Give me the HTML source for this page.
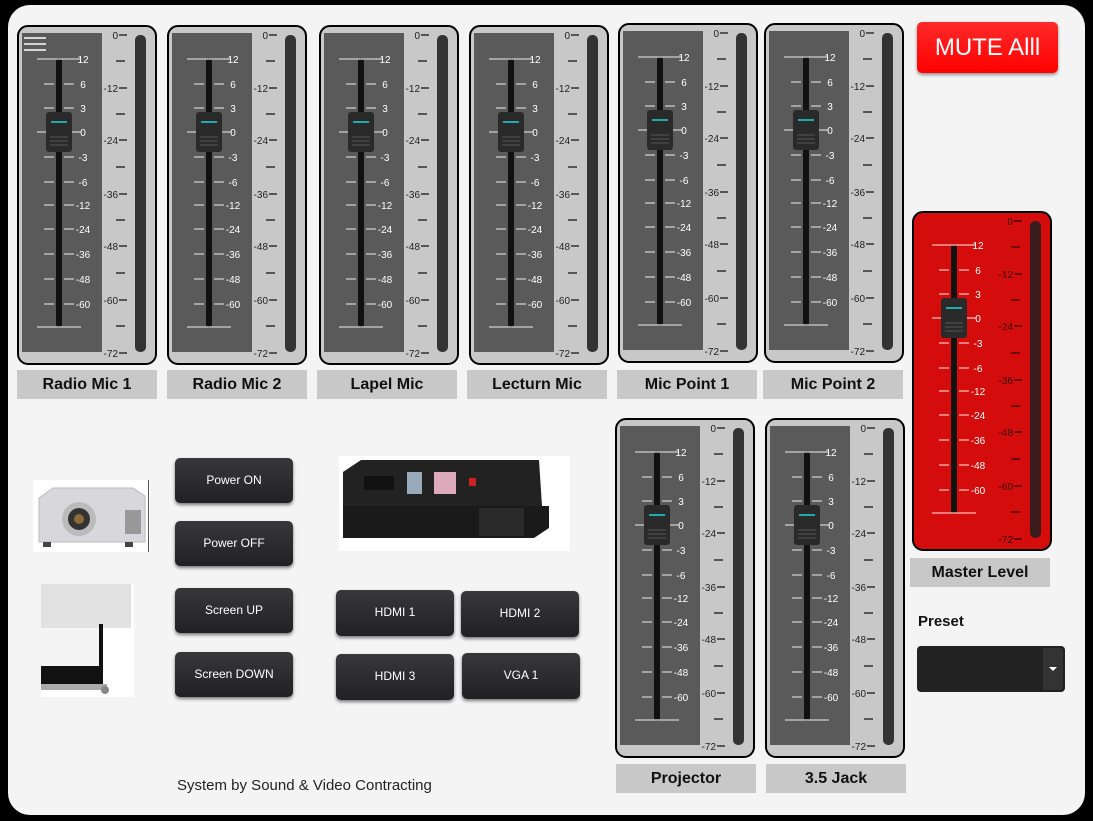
<!DOCTYPE html>
<html><head><meta charset="utf-8"><style>
body{margin:0;width:1093px;height:821px;background:#000;overflow:hidden;font-family:"Liberation Sans",sans-serif;position:relative}
.panel{position:absolute;left:8px;top:5px;width:1077px;height:810px;background:#f4f4f4;border-radius:22px}
.f{position:absolute;width:140px;height:340px}
.lb{position:absolute;width:140px;height:29px;background:#c8c8c8;font-weight:bold;font-size:16px;text-align:center;line-height:29px;color:#111}
.b{position:absolute;width:118px;height:45px;background:linear-gradient(#38383b,#212123);border-radius:5px;color:#fff;font-size:12px;text-align:center;line-height:45px;box-shadow:0 2px 3px rgba(0,0,0,.5)}
svg text{font-family:"Liberation Sans",sans-serif;font-size:10px}
</style></head><body>
<div class="panel"></div>

<svg class="f" style="left:17px;top:25px" viewBox="0 0 140 340"><rect x="1" y="1" width="138" height="338" rx="10" fill="#c8c8c8" stroke="#000" stroke-width="2"/><rect x="5" y="8" width="80" height="319" fill="#5a5a5a"/><rect x="39" y="33" width="6" height="270" rx="3" fill="#111"/><path d="M20 34H64M20 302H64M27 59H37M47 59H57M27 83H37M47 83H57M20 107H64M27 132H37M47 132H57M27 157H37M47 157H57M27 180H37M47 180H57M27 204H37M47 204H57M27 229H37M47 229H57M27 254H37M47 254H57M27 279H37M47 279H57" stroke="#bbb" stroke-width="1.5"/><g fill="#fff" text-anchor="middle"><text x="66" y="38">12</text><text x="66" y="63">6</text><text x="66" y="87">3</text><text x="66" y="111">0</text><text x="66" y="136">-3</text><text x="66" y="161">-6</text><text x="66" y="184">-12</text><text x="66" y="208">-24</text><text x="66" y="233">-36</text><text x="66" y="258">-48</text><text x="66" y="283">-60</text></g><g fill="#222" text-anchor="end"><text x="101" y="14">0</text><text x="101" y="67">-12</text><text x="101" y="119">-24</text><text x="101" y="173">-36</text><text x="101" y="225">-48</text><text x="101" y="279">-60</text><text x="101" y="332">-72</text></g><path d="M102 10H110M102 63H110M102 115H110M102 169H110M102 221H110M102 275H110M102 328H110M99 36H108M99 89H108M99 142H108M99 195H108M99 248H108M99 301H108" stroke="#111" stroke-width="1.2"/><rect x="118" y="10" width="11" height="317" rx="5" fill="#333"/><rect x="29" y="87" width="26" height="40" rx="3" fill="#2a2a2a"/><path d="M34 97H50" stroke="#2aa" stroke-width="2"/><path d="M33 112H51M33 116H51M33 120H51" stroke="#555"/><path d="M7 13H29M7 19H29M7 25H29" stroke="#fff" stroke-width="1.5"/></svg>

<svg class="f" style="left:167px;top:25px" viewBox="0 0 140 340"><rect x="1" y="1" width="138" height="338" rx="10" fill="#c8c8c8" stroke="#000" stroke-width="2"/><rect x="5" y="8" width="80" height="319" fill="#5a5a5a"/><rect x="39" y="33" width="6" height="270" rx="3" fill="#111"/><path d="M20 34H64M20 302H64M27 59H37M47 59H57M27 83H37M47 83H57M20 107H64M27 132H37M47 132H57M27 157H37M47 157H57M27 180H37M47 180H57M27 204H37M47 204H57M27 229H37M47 229H57M27 254H37M47 254H57M27 279H37M47 279H57" stroke="#bbb" stroke-width="1.5"/><g fill="#fff" text-anchor="middle"><text x="66" y="38">12</text><text x="66" y="63">6</text><text x="66" y="87">3</text><text x="66" y="111">0</text><text x="66" y="136">-3</text><text x="66" y="161">-6</text><text x="66" y="184">-12</text><text x="66" y="208">-24</text><text x="66" y="233">-36</text><text x="66" y="258">-48</text><text x="66" y="283">-60</text></g><g fill="#222" text-anchor="end"><text x="101" y="14">0</text><text x="101" y="67">-12</text><text x="101" y="119">-24</text><text x="101" y="173">-36</text><text x="101" y="225">-48</text><text x="101" y="279">-60</text><text x="101" y="332">-72</text></g><path d="M102 10H110M102 63H110M102 115H110M102 169H110M102 221H110M102 275H110M102 328H110M99 36H108M99 89H108M99 142H108M99 195H108M99 248H108M99 301H108" stroke="#111" stroke-width="1.2"/><rect x="118" y="10" width="11" height="317" rx="5" fill="#333"/><rect x="29" y="87" width="26" height="40" rx="3" fill="#2a2a2a"/><path d="M34 97H50" stroke="#2aa" stroke-width="2"/><path d="M33 112H51M33 116H51M33 120H51" stroke="#555"/></svg>

<svg class="f" style="left:319px;top:25px" viewBox="0 0 140 340"><rect x="1" y="1" width="138" height="338" rx="10" fill="#c8c8c8" stroke="#000" stroke-width="2"/><rect x="5" y="8" width="80" height="319" fill="#5a5a5a"/><rect x="39" y="33" width="6" height="270" rx="3" fill="#111"/><path d="M20 34H64M20 302H64M27 59H37M47 59H57M27 83H37M47 83H57M20 107H64M27 132H37M47 132H57M27 157H37M47 157H57M27 180H37M47 180H57M27 204H37M47 204H57M27 229H37M47 229H57M27 254H37M47 254H57M27 279H37M47 279H57" stroke="#bbb" stroke-width="1.5"/><g fill="#fff" text-anchor="middle"><text x="66" y="38">12</text><text x="66" y="63">6</text><text x="66" y="87">3</text><text x="66" y="111">0</text><text x="66" y="136">-3</text><text x="66" y="161">-6</text><text x="66" y="184">-12</text><text x="66" y="208">-24</text><text x="66" y="233">-36</text><text x="66" y="258">-48</text><text x="66" y="283">-60</text></g><g fill="#222" text-anchor="end"><text x="101" y="14">0</text><text x="101" y="67">-12</text><text x="101" y="119">-24</text><text x="101" y="173">-36</text><text x="101" y="225">-48</text><text x="101" y="279">-60</text><text x="101" y="332">-72</text></g><path d="M102 10H110M102 63H110M102 115H110M102 169H110M102 221H110M102 275H110M102 328H110M99 36H108M99 89H108M99 142H108M99 195H108M99 248H108M99 301H108" stroke="#111" stroke-width="1.2"/><rect x="118" y="10" width="11" height="317" rx="5" fill="#333"/><rect x="29" y="87" width="26" height="40" rx="3" fill="#2a2a2a"/><path d="M34 97H50" stroke="#2aa" stroke-width="2"/><path d="M33 112H51M33 116H51M33 120H51" stroke="#555"/></svg>

<svg class="f" style="left:469px;top:25px" viewBox="0 0 140 340"><rect x="1" y="1" width="138" height="338" rx="10" fill="#c8c8c8" stroke="#000" stroke-width="2"/><rect x="5" y="8" width="80" height="319" fill="#5a5a5a"/><rect x="39" y="33" width="6" height="270" rx="3" fill="#111"/><path d="M20 34H64M20 302H64M27 59H37M47 59H57M27 83H37M47 83H57M20 107H64M27 132H37M47 132H57M27 157H37M47 157H57M27 180H37M47 180H57M27 204H37M47 204H57M27 229H37M47 229H57M27 254H37M47 254H57M27 279H37M47 279H57" stroke="#bbb" stroke-width="1.5"/><g fill="#fff" text-anchor="middle"><text x="66" y="38">12</text><text x="66" y="63">6</text><text x="66" y="87">3</text><text x="66" y="111">0</text><text x="66" y="136">-3</text><text x="66" y="161">-6</text><text x="66" y="184">-12</text><text x="66" y="208">-24</text><text x="66" y="233">-36</text><text x="66" y="258">-48</text><text x="66" y="283">-60</text></g><g fill="#222" text-anchor="end"><text x="101" y="14">0</text><text x="101" y="67">-12</text><text x="101" y="119">-24</text><text x="101" y="173">-36</text><text x="101" y="225">-48</text><text x="101" y="279">-60</text><text x="101" y="332">-72</text></g><path d="M102 10H110M102 63H110M102 115H110M102 169H110M102 221H110M102 275H110M102 328H110M99 36H108M99 89H108M99 142H108M99 195H108M99 248H108M99 301H108" stroke="#111" stroke-width="1.2"/><rect x="118" y="10" width="11" height="317" rx="5" fill="#333"/><rect x="29" y="87" width="26" height="40" rx="3" fill="#2a2a2a"/><path d="M34 97H50" stroke="#2aa" stroke-width="2"/><path d="M33 112H51M33 116H51M33 120H51" stroke="#555"/></svg>

<svg class="f" style="left:618px;top:23px" viewBox="0 0 140 340"><rect x="1" y="1" width="138" height="338" rx="10" fill="#c8c8c8" stroke="#000" stroke-width="2"/><rect x="5" y="8" width="80" height="319" fill="#5a5a5a"/><rect x="39" y="33" width="6" height="270" rx="3" fill="#111"/><path d="M20 34H64M20 302H64M27 59H37M47 59H57M27 83H37M47 83H57M20 107H64M27 132H37M47 132H57M27 157H37M47 157H57M27 180H37M47 180H57M27 204H37M47 204H57M27 229H37M47 229H57M27 254H37M47 254H57M27 279H37M47 279H57" stroke="#bbb" stroke-width="1.5"/><g fill="#fff" text-anchor="middle"><text x="66" y="38">12</text><text x="66" y="63">6</text><text x="66" y="87">3</text><text x="66" y="111">0</text><text x="66" y="136">-3</text><text x="66" y="161">-6</text><text x="66" y="184">-12</text><text x="66" y="208">-24</text><text x="66" y="233">-36</text><text x="66" y="258">-48</text><text x="66" y="283">-60</text></g><g fill="#222" text-anchor="end"><text x="101" y="14">0</text><text x="101" y="67">-12</text><text x="101" y="119">-24</text><text x="101" y="173">-36</text><text x="101" y="225">-48</text><text x="101" y="279">-60</text><text x="101" y="332">-72</text></g><path d="M102 10H110M102 63H110M102 115H110M102 169H110M102 221H110M102 275H110M102 328H110M99 36H108M99 89H108M99 142H108M99 195H108M99 248H108M99 301H108" stroke="#111" stroke-width="1.2"/><rect x="118" y="10" width="11" height="317" rx="5" fill="#333"/><rect x="29" y="87" width="26" height="40" rx="3" fill="#2a2a2a"/><path d="M34 97H50" stroke="#2aa" stroke-width="2"/><path d="M33 112H51M33 116H51M33 120H51" stroke="#555"/></svg>

<svg class="f" style="left:764px;top:23px" viewBox="0 0 140 340"><rect x="1" y="1" width="138" height="338" rx="10" fill="#c8c8c8" stroke="#000" stroke-width="2"/><rect x="5" y="8" width="80" height="319" fill="#5a5a5a"/><rect x="39" y="33" width="6" height="270" rx="3" fill="#111"/><path d="M20 34H64M20 302H64M27 59H37M47 59H57M27 83H37M47 83H57M20 107H64M27 132H37M47 132H57M27 157H37M47 157H57M27 180H37M47 180H57M27 204H37M47 204H57M27 229H37M47 229H57M27 254H37M47 254H57M27 279H37M47 279H57" stroke="#bbb" stroke-width="1.5"/><g fill="#fff" text-anchor="middle"><text x="66" y="38">12</text><text x="66" y="63">6</text><text x="66" y="87">3</text><text x="66" y="111">0</text><text x="66" y="136">-3</text><text x="66" y="161">-6</text><text x="66" y="184">-12</text><text x="66" y="208">-24</text><text x="66" y="233">-36</text><text x="66" y="258">-48</text><text x="66" y="283">-60</text></g><g fill="#222" text-anchor="end"><text x="101" y="14">0</text><text x="101" y="67">-12</text><text x="101" y="119">-24</text><text x="101" y="173">-36</text><text x="101" y="225">-48</text><text x="101" y="279">-60</text><text x="101" y="332">-72</text></g><path d="M102 10H110M102 63H110M102 115H110M102 169H110M102 221H110M102 275H110M102 328H110M99 36H108M99 89H108M99 142H108M99 195H108M99 248H108M99 301H108" stroke="#111" stroke-width="1.2"/><rect x="118" y="10" width="11" height="317" rx="5" fill="#333"/><rect x="29" y="87" width="26" height="40" rx="3" fill="#2a2a2a"/><path d="M34 97H50" stroke="#2aa" stroke-width="2"/><path d="M33 112H51M33 116H51M33 120H51" stroke="#555"/></svg>

<svg class="f" style="left:615px;top:418px" viewBox="0 0 140 340"><rect x="1" y="1" width="138" height="338" rx="10" fill="#c8c8c8" stroke="#000" stroke-width="2"/><rect x="5" y="8" width="80" height="319" fill="#5a5a5a"/><rect x="39" y="33" width="6" height="270" rx="3" fill="#111"/><path d="M20 34H64M20 302H64M27 59H37M47 59H57M27 83H37M47 83H57M20 107H64M27 132H37M47 132H57M27 157H37M47 157H57M27 180H37M47 180H57M27 204H37M47 204H57M27 229H37M47 229H57M27 254H37M47 254H57M27 279H37M47 279H57" stroke="#bbb" stroke-width="1.5"/><g fill="#fff" text-anchor="middle"><text x="66" y="38">12</text><text x="66" y="63">6</text><text x="66" y="87">3</text><text x="66" y="111">0</text><text x="66" y="136">-3</text><text x="66" y="161">-6</text><text x="66" y="184">-12</text><text x="66" y="208">-24</text><text x="66" y="233">-36</text><text x="66" y="258">-48</text><text x="66" y="283">-60</text></g><g fill="#222" text-anchor="end"><text x="101" y="14">0</text><text x="101" y="67">-12</text><text x="101" y="119">-24</text><text x="101" y="173">-36</text><text x="101" y="225">-48</text><text x="101" y="279">-60</text><text x="101" y="332">-72</text></g><path d="M102 10H110M102 63H110M102 115H110M102 169H110M102 221H110M102 275H110M102 328H110M99 36H108M99 89H108M99 142H108M99 195H108M99 248H108M99 301H108" stroke="#111" stroke-width="1.2"/><rect x="118" y="10" width="11" height="317" rx="5" fill="#333"/><rect x="29" y="87" width="26" height="40" rx="3" fill="#2a2a2a"/><path d="M34 97H50" stroke="#2aa" stroke-width="2"/><path d="M33 112H51M33 116H51M33 120H51" stroke="#555"/></svg>

<svg class="f" style="left:765px;top:418px" viewBox="0 0 140 340"><rect x="1" y="1" width="138" height="338" rx="10" fill="#c8c8c8" stroke="#000" stroke-width="2"/><rect x="5" y="8" width="80" height="319" fill="#5a5a5a"/><rect x="39" y="33" width="6" height="270" rx="3" fill="#111"/><path d="M20 34H64M20 302H64M27 59H37M47 59H57M27 83H37M47 83H57M20 107H64M27 132H37M47 132H57M27 157H37M47 157H57M27 180H37M47 180H57M27 204H37M47 204H57M27 229H37M47 229H57M27 254H37M47 254H57M27 279H37M47 279H57" stroke="#bbb" stroke-width="1.5"/><g fill="#fff" text-anchor="middle"><text x="66" y="38">12</text><text x="66" y="63">6</text><text x="66" y="87">3</text><text x="66" y="111">0</text><text x="66" y="136">-3</text><text x="66" y="161">-6</text><text x="66" y="184">-12</text><text x="66" y="208">-24</text><text x="66" y="233">-36</text><text x="66" y="258">-48</text><text x="66" y="283">-60</text></g><g fill="#222" text-anchor="end"><text x="101" y="14">0</text><text x="101" y="67">-12</text><text x="101" y="119">-24</text><text x="101" y="173">-36</text><text x="101" y="225">-48</text><text x="101" y="279">-60</text><text x="101" y="332">-72</text></g><path d="M102 10H110M102 63H110M102 115H110M102 169H110M102 221H110M102 275H110M102 328H110M99 36H108M99 89H108M99 142H108M99 195H108M99 248H108M99 301H108" stroke="#111" stroke-width="1.2"/><rect x="118" y="10" width="11" height="317" rx="5" fill="#333"/><rect x="29" y="87" width="26" height="40" rx="3" fill="#2a2a2a"/><path d="M34 97H50" stroke="#2aa" stroke-width="2"/><path d="M33 112H51M33 116H51M33 120H51" stroke="#555"/></svg>

<svg class="f" style="left:912px;top:211px" viewBox="0 0 140 340"><rect x="1" y="1" width="138" height="338" rx="10" fill="#d40c0c" stroke="#000" stroke-width="2"/><rect x="39" y="33" width="6" height="270" rx="3" fill="#111"/><path d="M20 34H64M20 302H64M27 59H37M47 59H57M27 83H37M47 83H57M20 107H64M27 132H37M47 132H57M27 157H37M47 157H57M27 180H37M47 180H57M27 204H37M47 204H57M27 229H37M47 229H57M27 254H37M47 254H57M27 279H37M47 279H57" stroke="#f0a0a0" stroke-width="1.5"/><g fill="#fff" text-anchor="middle"><text x="66" y="38">12</text><text x="66" y="63">6</text><text x="66" y="87">3</text><text x="66" y="111">0</text><text x="66" y="136">-3</text><text x="66" y="161">-6</text><text x="66" y="184">-12</text><text x="66" y="208">-24</text><text x="66" y="233">-36</text><text x="66" y="258">-48</text><text x="66" y="283">-60</text></g><g fill="#300" text-anchor="end"><text x="101" y="14">0</text><text x="101" y="67">-12</text><text x="101" y="119">-24</text><text x="101" y="173">-36</text><text x="101" y="225">-48</text><text x="101" y="279">-60</text><text x="101" y="332">-72</text></g><path d="M102 10H110M102 63H110M102 115H110M102 169H110M102 221H110M102 275H110M102 328H110M99 36H108M99 89H108M99 142H108M99 195H108M99 248H108M99 301H108" stroke="#300" stroke-width="1.2"/><rect x="118" y="10" width="11" height="317" rx="5" fill="#3a1c1c"/><rect x="29" y="87" width="26" height="40" rx="3" fill="#2a2a2a"/><path d="M34 97H50" stroke="#2aa" stroke-width="2"/><path d="M33 112H51M33 116H51M33 120H51" stroke="#555"/></svg>

<div class="lb" style="left:17px;top:370px">Radio Mic 1</div>
<div class="lb" style="left:167px;top:370px">Radio Mic 2</div>
<div class="lb" style="left:317px;top:370px">Lapel Mic</div>
<div class="lb" style="left:467px;top:370px">Lecturn Mic</div>
<div class="lb" style="left:617px;top:370px">Mic Point 1</div>
<div class="lb" style="left:763px;top:370px">Mic Point 2</div>
<div class="lb" style="left:616px;top:764px">Projector</div>
<div class="lb" style="left:766px;top:764px">3.5 Jack</div>
<div class="lb" style="left:910px;top:558px">Master Level</div>

<div style="position:absolute;left:917px;top:22px;width:141px;height:51px;border-radius:5px;background:linear-gradient(#ff2a2a,#f00);color:#fff;font-size:24px;text-align:center;line-height:51px;box-shadow:0 2px 3px rgba(0,0,0,.4)">MUTE Alll</div>

<svg style="position:absolute;left:33px;top:480px" width="117" height="72"><rect width="117" height="72" fill="#fff"/><path d="M6 18L20 8H100L112 16V62H6Z" fill="#d8d8dc" stroke="#bbb"/><circle cx="46" cy="39" r="17" fill="#bbb"/><circle cx="46" cy="39" r="11" fill="#333"/><circle cx="46" cy="39" r="5" fill="#8a6a3a"/><rect x="92" y="30" width="16" height="24" fill="#999"/><rect x="10" y="62" width="8" height="5" fill="#444"/><rect x="92" y="62" width="8" height="5" fill="#444"/><rect x="115" y="0" width="1" height="72" fill="#555"/></svg>
<svg style="position:absolute;left:41px;top:584px" width="93" height="113"><rect width="93" height="113" fill="#fff"/><rect x="0" y="0" width="90" height="44" fill="#e2e2e2"/><rect x="0" y="44" width="62" height="38" fill="#f4f4f4"/><rect x="58" y="40" width="4" height="46" fill="#111"/><rect x="0" y="82" width="62" height="20" fill="#111"/><rect x="0" y="100" width="66" height="6" fill="#aaa"/><circle cx="64" cy="106" r="4" fill="#888"/></svg>
<svg style="position:absolute;left:339px;top:456px" width="231" height="95"><rect width="231" height="95" fill="#fff"/><path d="M4 16L22 4H200L203 50H4Z" fill="#222"/><rect x="25" y="20" width="30" height="14" fill="#111"/><rect x="68" y="16" width="15" height="22" fill="#9ab"/><rect x="95" y="16" width="22" height="22" fill="#dab"/><rect x="130" y="22" width="7" height="8" fill="#c22"/><path d="M4 50H210V72L195 82H4Z" fill="#1a1a1a"/><rect x="140" y="52" width="45" height="28" fill="#2a2a2a"/></svg>

<div class="b" style="left:175px;top:458px">Power ON</div>
<div class="b" style="left:175px;top:521px">Power OFF</div>
<div class="b" style="left:175px;top:588px">Screen UP</div>
<div class="b" style="left:175px;top:652px">Screen DOWN</div>
<div class="b" style="left:336px;top:590px;height:46px">HDMI 1</div>
<div class="b" style="left:461px;top:591px;height:46px">HDMI 2</div>
<div class="b" style="left:336px;top:654px;height:46px">HDMI 3</div>
<div class="b" style="left:462px;top:653px;height:46px">VGA 1</div>

<div style="position:absolute;left:918px;top:613px;font-size:15px;font-weight:bold;color:#111">Preset</div>
<div style="position:absolute;left:917px;top:646px;width:148px;height:46px;background:#222;border-radius:4px"><div style="position:absolute;right:2px;top:2px;width:20px;height:42px;background:#333;border-radius:0 3px 3px 0"></div><div style="position:absolute;right:8px;top:21px;width:0;height:0;border-left:4px solid transparent;border-right:4px solid transparent;border-top:4px solid #fff"></div></div>

<div style="position:absolute;left:177px;top:777px;font-size:15px;color:#222">System by Sound &amp; Video Contracting</div>
</body></html>
